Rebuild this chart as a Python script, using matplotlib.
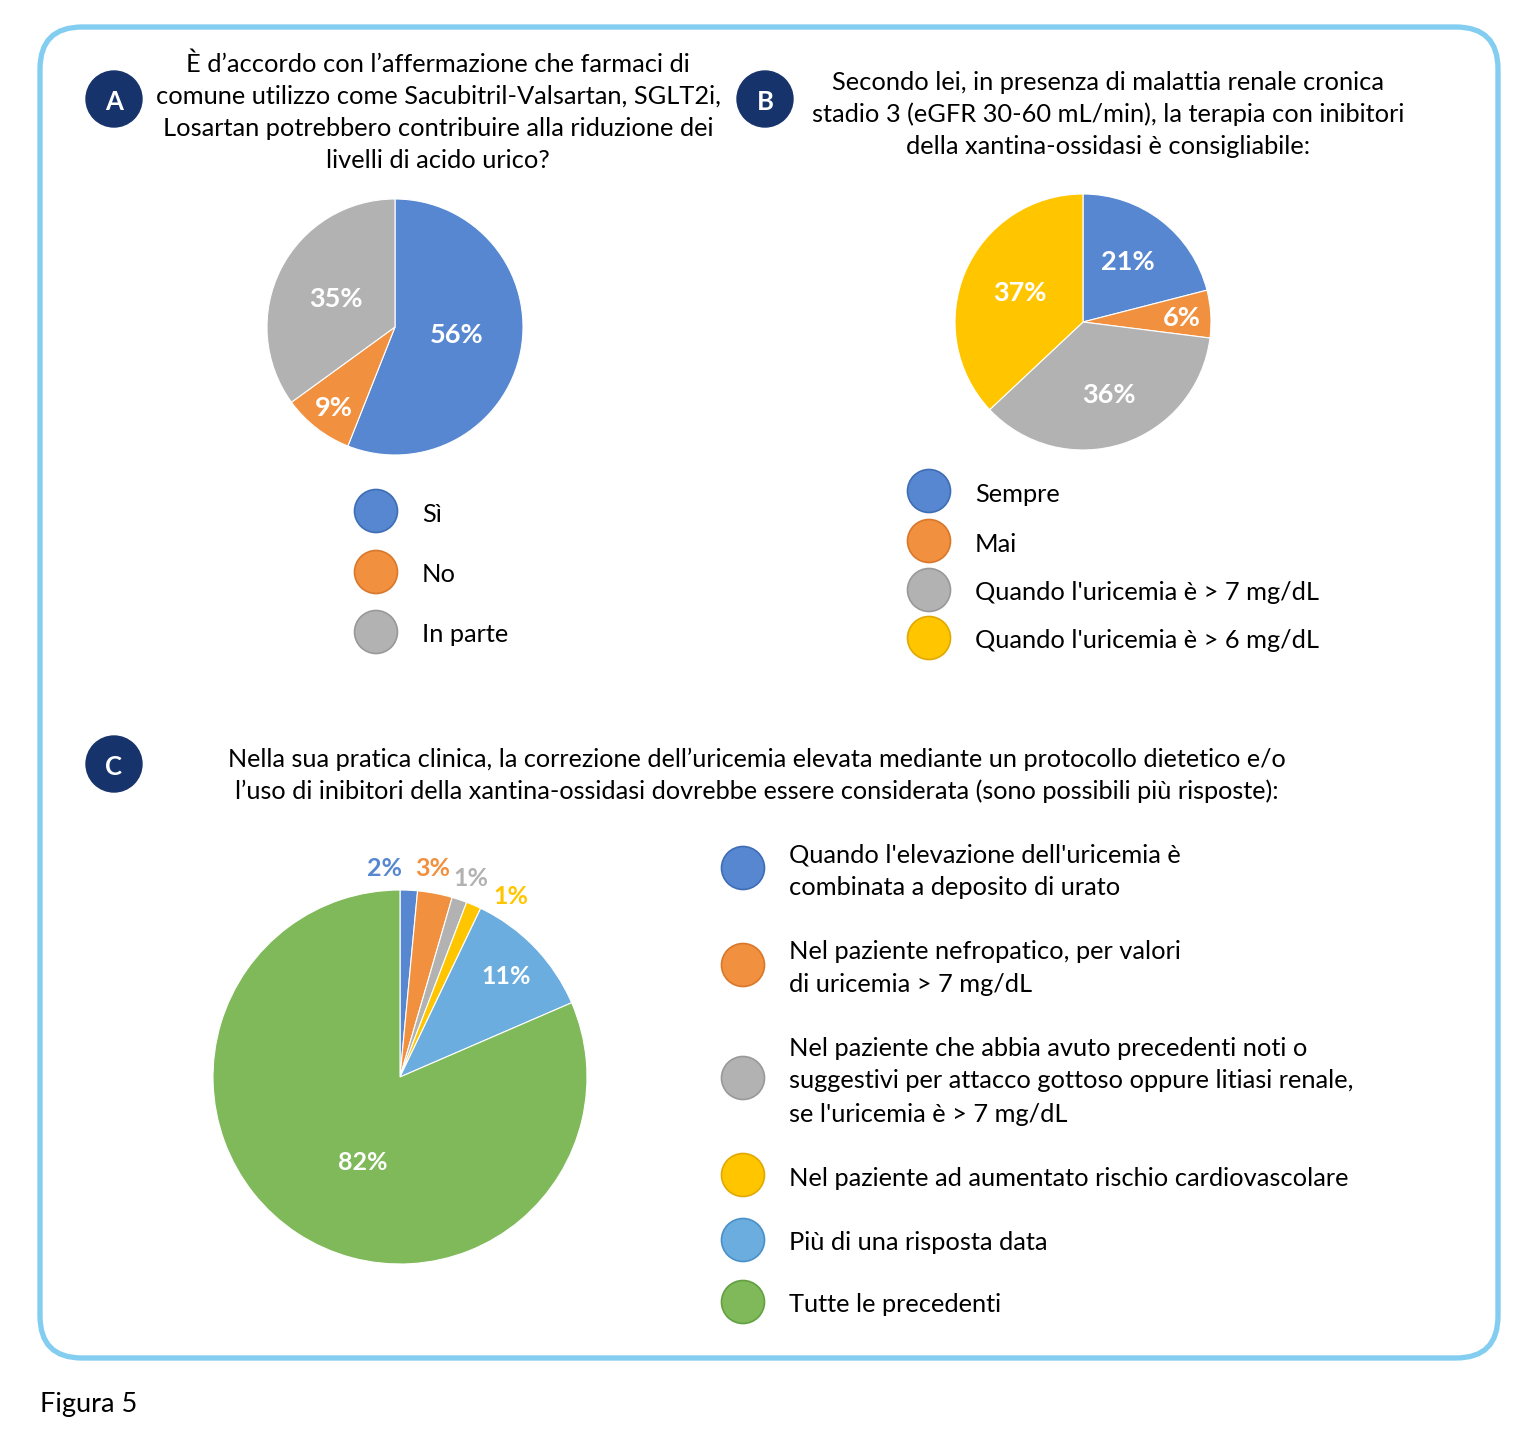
import matplotlib
matplotlib.use("Agg")
import matplotlib.pyplot as plt
from matplotlib.patches import Circle, FancyBboxPatch
import numpy as np

plt.rcParams['font.family'] = ['Lato', 'DejaVu Sans']

W, H = 1522, 1441

# ---------------- data ----------------
title_a = ["È d’accordo con l’affermazione che farmaci di",
           "comune utilizzo come Sacubitril-Valsartan, SGLT2i,",
           "Losartan potrebbero contribuire alla riduzione dei",
           "livelli di acido urico?"]
cats_a = ["Sì", "No", "In parte"]
vals_a = [56, 9, 35]

title_b = ["Secondo lei, in presenza di malattia renale cronica",
           "stadio 3 (eGFR 30-60 mL/min), la terapia con inibitori",
           "della xantina-ossidasi è consigliabile:"]
cats_b = ["Sempre", "Mai", "Quando l'uricemia è > 7 mg/dL", "Quando l'uricemia è > 6 mg/dL"]
vals_b = [21, 6, 36, 37]

title_c = ["Nella sua pratica clinica, la correzione dell’uricemia elevata mediante un protocollo dietetico e/o",
           "l’uso di inibitori della xantina-ossidasi dovrebbe essere considerata (sono possibili più risposte):"]
cats_c = ["Quando l'elevazione dell'uricemia è\ncombinata a deposito di urato",
          "Nel paziente nefropatico, per valori\ndi uricemia > 7 mg/dL",
          "Nel paziente che abbia avuto precedenti noti o\nsuggestivi per attacco gottoso oppure litiasi renale,\nse l'uricemia è > 7 mg/dL",
          "Nel paziente ad aumentato rischio cardiovascolare",
          "Più di una risposta data",
          "Tutte le precedenti"]
vals_c = [1.5, 3.0, 1.3, 1.3, 11.4, 81.5]
labels_c = ["2%", "3%", "1%", "1%", "11%", "82%"]

# ---------------- styles ----------------
BLUE, ORANGE, GRAY, YELLOW, LBLUE, GREEN = "#5687d0", "#f1913f", "#b2b2b2", "#ffc600", "#6badde", "#80b95a"
EDGE = {BLUE: "#3f6db5", ORANGE: "#d9772a", GRAY: "#999999", YELLOW: "#e0a800", LBLUE: "#4a90c8", GREEN: "#62a040"}
NAVY = "#17336b"
colors_a = [BLUE, ORANGE, GRAY]
colors_b = [BLUE, ORANGE, GRAY, YELLOW]
colors_c = [BLUE, ORANGE, GRAY, YELLOW, LBLUE, GREEN]
VA = "center_baseline"

fig = plt.figure(figsize=(W / 100, H / 100), dpi=100)
fig.patch.set_facecolor("white")
ax = fig.add_axes([0, 0, 1, 1])
ax.set_xlim(0, W)
ax.set_ylim(H, 0)
ax.axis("off")

# border
ax.add_patch(FancyBboxPatch((40, 27), 1458, 1331, boxstyle="round,pad=0,rounding_size=42",
                            fill=False, edgecolor="#82cdf0", linewidth=3.8))

TFS = 18.3

def badge(x, y, letter):
    ax.add_patch(Circle((x, y), 28, color=NAVY, zorder=3))
    ax.text(x, y + 1, letter, color="white", fontsize=18.5, fontweight="bold",
            ha="center", va=VA, zorder=4)

badge(114, 99, "A")
badge(765, 99, "B")
badge(114, 764, "C")

for i, line in enumerate(title_a):
    ax.text(438, 62 + 32.3 * i, line, ha="center", va=VA, fontsize=TFS)
for i, line in enumerate(title_b):
    ax.text(1108, 80 + 32.5 * i, line, ha="center", va=VA, fontsize=TFS)
for i, line in enumerate(title_c):
    ax.text(757, 757 + 32 * i, line, ha="center", va=VA, fontsize=TFS - 0.1)

ax.text(40, 1402, "Figura 5", ha="left", va=VA, fontsize=19.5)


def pie_axes(cx, cy, r):
    pa = fig.add_axes([(cx - r) / W, 1 - (cy + r) / H, 2 * r / W, 2 * r / H])
    pa.axis("off")
    return pa


def draw_pie(pa, vals, cols, labels, dists, txtcols, fs=19.5):
    wedges, _ = pa.pie(vals, colors=cols, startangle=90, counterclock=False, radius=1,
                       wedgeprops=dict(edgecolor="white", linewidth=0.8))
    pa.set_xlim(-1, 1)
    pa.set_ylim(-1, 1)
    pa.set_aspect("equal")
    for w, lab, d, tc in zip(wedges, labels, dists, txtcols):
        if lab is None:
            continue
        ang = np.deg2rad((w.theta1 + w.theta2) / 2 + d[1])
        pa.text(d[0] * np.cos(ang), d[0] * np.sin(ang), lab, ha="center", va=VA,
                color=tc, fontsize=fs, fontweight="bold", clip_on=False)


# Pie A
pa = pie_axes(395, 327, 128)
draw_pie(pa, vals_a, colors_a, [f"{v}%" for v in vals_a],
         [(0.48, 5), (0.78, 0), (0.52, 0)], ["white"] * 3)

# Pie B
pb = pie_axes(1083, 322, 128)
draw_pie(pb, vals_b, colors_b, [f"{v}%" for v in vals_b],
         [(0.6, 2), (0.77, 0), (0.59, 2), (0.55, -3)], ["white"] * 4)

# Pie C
pc = pie_axes(400, 1077, 187)
draw_pie(pc, vals_c, colors_c, labels_c,
         [(1.13, 7), (1.14, 2), (1.14, -1), (1.14, -8), (0.79, 0), (0.49, 9)],
         [BLUE, ORANGE, GRAY, YELLOW, "white", "white"], fs=18)


def legend(x, ys, cols, texts, line_h=33):
    for y, c, t in zip(ys, cols, texts):
        ax.add_patch(Circle((x, y), 21.5, facecolor=c, edgecolor=EDGE[c], linewidth=1.2, zorder=3))
        lines = t.split("\n")
        n = len(lines)
        for k, ln in enumerate(lines):
            ax.text(x + 46, y + 1 + (k - (n - 1) / 2) * line_h, ln, ha="left", va=VA,
                    fontsize=TFS)

legend(376, [511, 572, 632], colors_a, cats_a)
legend(929, [491, 541, 590, 638], colors_b, cats_b)
legend(743, [868, 965, 1078, 1175, 1240, 1302], colors_c, cats_c)

fig.savefig("out.png", dpi=100, facecolor="white")
